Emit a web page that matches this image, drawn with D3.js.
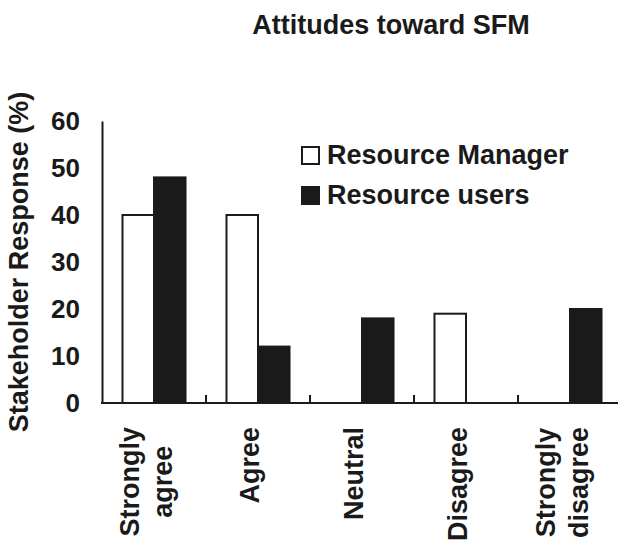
<!DOCTYPE html>
<html>
<head>
<meta charset="utf-8">
<script src="https://cdn.jsdelivr.net/npm/d3@7"></script>
<style>
  body { margin: 0; background: #fff; }
  svg text { font-family: 'Liberation Sans', Arial, sans-serif; font-weight: bold; fill: #1a1a1a; }
</style>
</head>
<body>
<svg id="chart" width="618" height="542"></svg>
<script>
const categories = ['Strongly agree', 'Agree', 'Neutral', 'Disagree', 'Strongly disagree']
const series = ['Resource Manager', 'Resource users']
const managerValues = [40, 40, 0, 19, 0]
const userValues = [48, 12, 18, 0, 20]
const yTicks = [0, 10, 20, 30, 40, 50, 60]

const ink = '#1a1a1a'
const svg = d3.select('#chart')
const margin = { top: 121, left: 102, bottom: 403, right: 622 }

const x0 = d3.scaleBand().domain(categories).range([margin.left, margin.right])
const x1 = d3.scaleBand().domain(series).range([0, x0.bandwidth()]).paddingOuter(0.65)
const y = d3.scaleLinear().domain([0, 60]).range([margin.bottom, margin.top])

const rows = categories.map((c, i) => ({ cat: c, values: [managerValues[i], userValues[i]] }))

// 标题
svg.append('text')
  .attr('x', 391)
  .attr('y', 34)
  .attr('text-anchor', 'middle')
  .attr('font-size', 27)
  .text('Attitudes toward SFM')

// y 轴
const yAxis = svg.append('g')
  .attr('transform', `translate(${margin.left},0)`)
  .call(d3.axisLeft(y).tickValues(yTicks).tickSize(0).tickPadding(22))
yAxis.select('.domain').attr('stroke', ink).attr('stroke-width', 2)
yAxis.selectAll('text').attr('font-size', 26).attr('fill', ink)

svg.append('text')
  .attr('transform', `translate(28,262) rotate(-90)`)
  .attr('text-anchor', 'middle')
  .attr('font-size', 27)
  .text('Stakeholder Response (%)')

// 柱子
const groups = svg.append('g').selectAll('g')
  .data(rows)
  .enter()
  .append('g')
  .attr('transform', d => `translate(${x0(d.cat)},0)`)
groups.selectAll('rect')
  .data(d => d.values.map((v, j) => ({ key: series[j], value: v })).filter(d => d.value > 0))
  .enter()
  .append('rect')
  .attr('x', d => x1(d.key))
  .attr('y', d => y(d.value))
  .attr('width', x1.bandwidth())
  .attr('height', d => y(0) - y(d.value))
  .attr('fill', d => d.key === series[0] ? '#fff' : ink)
  .attr('stroke', ink)
  .attr('stroke-width', 2)

// x 轴：基线和类别分隔刻度
const xAxis = svg.append('g')
  .attr('transform', `translate(0,${y(0)})`)
xAxis.append('line')
  .attr('x1', margin.left - 1)
  .attr('x2', margin.right)
  .attr('stroke', ink)
  .attr('stroke-width', 2)
xAxis.selectAll('.sep')
  .data(categories.slice(1))
  .enter()
  .append('line')
  .attr('class', 'sep')
  .attr('x1', d => x0(d))
  .attr('x2', d => x0(d))
  .attr('y1', 0)
  .attr('y2', -8)
  .attr('stroke', ink)
  .attr('stroke-width', 2)

// 类别标签（竖排，两行居中）
const lineH = 33
const labels = svg.append('g').selectAll('g')
  .data(categories)
  .enter()
  .append('g')
labels.each(function (d) {
  const g = d3.select(this)
  const parts = d.split(' ')
  const cx = x0(d) + x0.bandwidth() / 2 - 8
  const texts = parts.map((p, i) => g.append('text')
    .attr('font-size', 27)
    .attr('text-anchor', 'middle')
    .text(p)
    .datum({ base: cx + (i - (parts.length - 1) / 2) * lineH + 9 }))
  const maxW = d3.max(texts, t => t.node().getComputedTextLength())
  const cy = 427 + maxW / 2
  texts.forEach(t => t.attr('transform', dd => `translate(${dd.base},${cy}) rotate(-90)`))
})

// 图例
const legend = svg.append('g').selectAll('g')
  .data(series)
  .enter()
  .append('g')
  .attr('transform', (d, i) => `translate(302,${147 + i * 40})`)
legend.append('rect')
  .attr('width', 17)
  .attr('height', 17)
  .attr('fill', (d, i) => i === 0 ? '#fff' : ink)
  .attr('stroke', ink)
  .attr('stroke-width', 2)
legend.append('text')
  .attr('x', 25)
  .attr('y', 17)
  .attr('font-size', 27)
  .text(d => d)
</script>
</body>
</html>
